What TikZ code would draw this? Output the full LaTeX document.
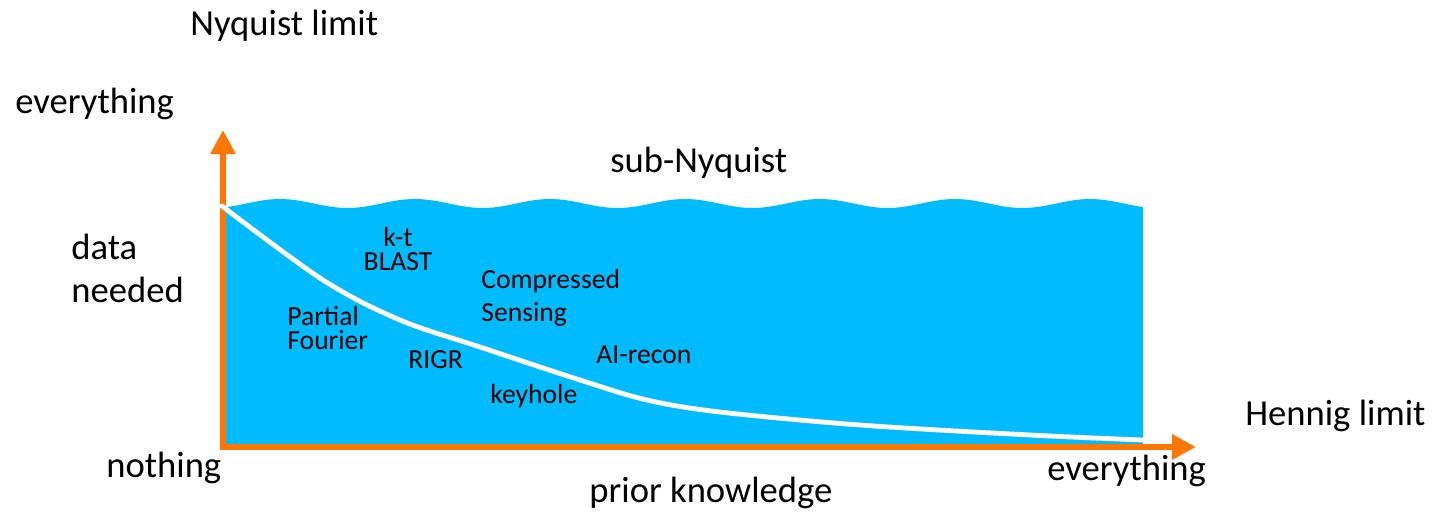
\documentclass[tikz,border=0pt]{standalone}
\usepackage{fontspec}
\setmainfont{Carlito}
\usetikzlibrary{arrows.meta}
\definecolor{water}{RGB}{0,188,255}
\definecolor{axisorange}{RGB}{255,119,0}
\tikzset{
  axis/.style={draw=axisorange, line width=3pt, line join=miter,
    {Triangle[length=12pt,width=12pt]}-{Triangle[length=12pt,width=12pt]}},
  curve/.style={draw=white, line width=2.4pt, line cap=round},
  big/.style={font=\fontsize{18.3}{21.2}\selectfont, inner sep=0pt,
    anchor=base west, align=left},
  small/.style={font=\fontsize{13.8}{12}\selectfont, inner sep=0pt,
    anchor=base west, align=left}
}
\begin{document}
\begin{tikzpicture}[x=0.5pt, y=-0.5pt]
  \useasboundingbox (0,0) rectangle (1437,511);

  % region below the wavy line
  \fill[water] (226,444)
    -- plot[domain=226:1143, samples=160] (\x,{203.5-4.5*cos(2.6667*(\x-550))})
    -- (1143,444) -- cycle;

  % axes
  \draw[axis] (223,130) -- (223,447) -- (1196,447);

  % limit curve
  \draw[curve] plot[smooth, tension=0.55] coordinates
    {(222,206) (323,280) (400,320) (480,347) (580,380) (647,400)
     (720,412) (860,425) (1030,435) (1143,440)};

  % axis labels (multi-line nodes sit on their last line)
  \node[big] (nyq) at (190,35) {Nyquist limit};
  \node[big] (ytop) at (15,113) {everything};
  \node[big] (sub) at (610,172) {sub-Nyquist};
  \node[big] (yname) at (71,302) {data\\needed};
  \node[big] (ybot) at (106,477) {nothing};
  \node[big] (xname) at (589,502) {prior knowledge};
  \node[big] (xtop) at (1047,480) {everything};
  \node[big] (hen) at (1245,425) {Hennig limit};

  % methods
  \node[small, align=center, anchor=base] (ktb) at (398,270) {k-t\\BLAST};
  \node[small] (cs) at (481,321) {Compressed\\[4.5pt]Sensing};
  \node[small] (pf) at (287,349) {Partial\\Fourier};
  \node[small] (rigr) at (408,368) {RIGR};
  \node[small] (ai) at (596,363) {AI-recon};
  \node[small] (key) at (490,403) {keyhole};
\end{tikzpicture}
\end{document}
